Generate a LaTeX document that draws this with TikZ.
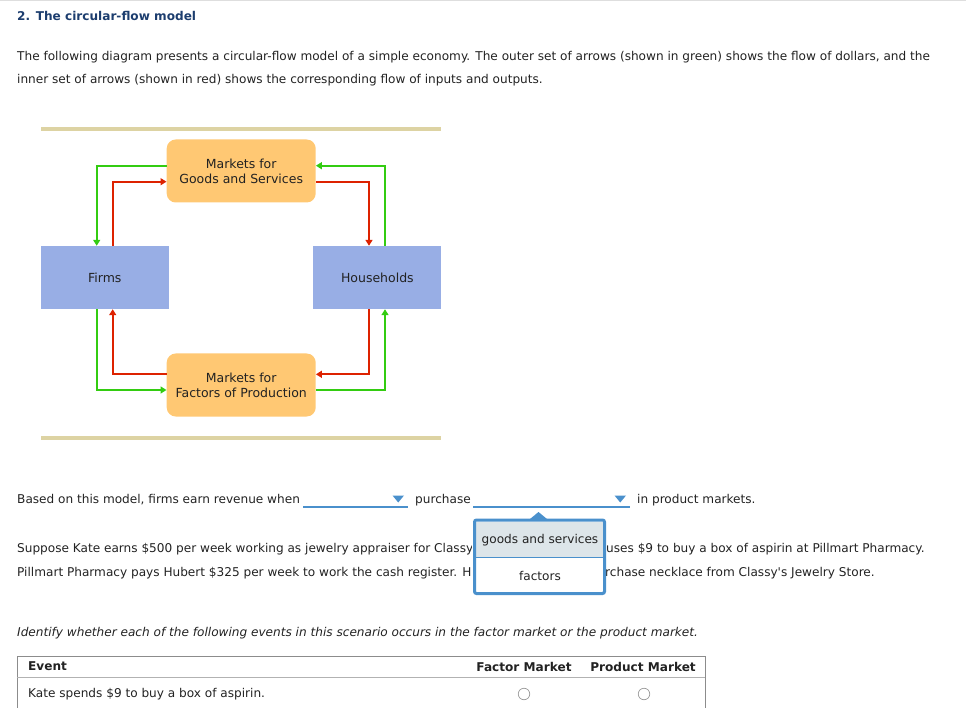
\documentclass[tikz,border=0pt]{standalone}
\usepackage{fontspec}
\setmainfont{DejaVu Sans}[Ligatures=TeXOff]
\usetikzlibrary{arrows.meta}
\definecolor{titleblue}{HTML}{1C3D6E}
\definecolor{flowgreen}{HTML}{33CC11}
\definecolor{flowred}{HTML}{DD2200}
\definecolor{mktorange}{HTML}{FFC873}
\definecolor{agentblue}{HTML}{98AEE5}
\definecolor{tanline}{HTML}{DDD3A3}
\definecolor{ddblue}{HTML}{4A90CC}
\definecolor{itemgray}{HTML}{DDE5E9}
\definecolor{txt}{HTML}{222222}
\tikzset{
  body/.style={font=\fontsize{12.1}{14}\selectfont, text=txt, inner sep=0pt, anchor=west},
  mkt/.style={fill=mktorange, rounded corners=9pt, minimum width=149pt, minimum height=63pt, align=center, font=\fontsize{12.5}{15}\selectfont, text=txt, inner sep=0pt},
  agent/.style={fill=agentblue, minimum width=128pt, minimum height=63pt, font=\fontsize{12.5}{15}\selectfont, text=txt, inner sep=0pt},
  gflow/.style={draw=flowgreen, line width=2pt, -{Triangle[length=6pt,width=7pt]}},
  rflow/.style={draw=flowred, line width=2pt, -{Triangle[length=6pt,width=7pt]}},
  ddline/.style={draw=ddblue, line width=1.5pt},
  ddtri/.style={fill=ddblue},
  hdr/.style={font=\fontsize{12.1}{14}\selectfont\bfseries, text=txt, inner sep=0pt},
}
\begin{document}
\begin{tikzpicture}[x=1pt,y=-1pt]
\useasboundingbox (0,0) rectangle (966,708);
\draw[color=black!13, line width=1.5pt] (0,0.75) -- (966,0.75);
\node[font=\fontsize{12.1}{14}\selectfont\bfseries, text=titleblue, inner sep=0pt, anchor=west] (title) at (17,16) {2. The circular-flow model};
\node[body] (p1) at (17,57) {The following diagram presents a circular-flow model of a simple economy. The outer set of arrows (shown in green) shows the flow of dollars, and the};
\node[body] (p2) at (17,80) {inner set of arrows (shown in red) shows the corresponding flow of inputs and outputs.};
% diagram
\draw[tanline, line width=4pt] (41,129.5) -- (441,129.5);
\draw[tanline, line width=4pt] (41,437.5) -- (441,437.5);
\node[mkt] (goods) at (241.2,171) {Markets for\\Goods and Services};
\node[mkt] (factors) at (241.2,385) {Markets for\\Factors of Production};
\node[agent] (firms) at (104.8,277.5) {Firms};
\node[agent] (house) at (377.4,277.5) {Households};
% top left
\draw[gflow] (goods.west |- 0,165.7) -| (firms.north -| 96.7,0);
\draw[rflow] (firms.north -| 112.7,0) |- (goods.west |- 0,181.7);
% top right
\draw[gflow] (house.north -| 385,0) |- (goods.east |- 0,165.7);
\draw[rflow] (goods.east |- 0,181.7) -| (house.north -| 369,0);
% bottom right
\draw[rflow] (house.south -| 369,0) |- (factors.east |- 0,374.3);
\draw[gflow] (factors.east |- 0,390) -| (house.south -| 385,0);
% bottom left
\draw[gflow] (firms.south -| 96.7,0) |- (factors.west |- 0,390);
\draw[rflow] (factors.west |- 0,374.3) -| (firms.south -| 112.7,0);
% question sentence
\node[body] (q1) at (17,500) {Based on this model, firms earn revenue when};
\coordinate (d1a) at (303,507);
\coordinate (d1b) at (408,507);
\draw[ddline] (d1a) -- (d1b);
\fill[ddtri] (392.5,495.5) -- (404,495.5) -- (398.25,502.5) -- cycle;
\node[body] (q2) at (415,500) {purchase};
\coordinate (d2a) at (473,507);
\coordinate (d2b) at (630,507);
\draw[ddline] (d2a) -- (d2b);
\fill[ddtri] (614.5,495.5) -- (626,495.5) -- (620.25,502.5) -- cycle;
\node[body] (q3) at (637,500) {in product markets.};
% scenario
\node[body] (s1) at (17,549) {Suppose Kate earns \$500 per week working as jewelry appraiser for Classy};
\node[body] (s1b) at (606,549) {uses \$9 to buy a box of aspirin at Pillmart Pharmacy.};
\node[body] (s2) at (17,573) {Pillmart Pharmacy pays Hubert \$325 per week to work the cash register. H};
\node[body] (s2b) at (605,573) {rchase necklace from Classy's Jewelry Store.};
% popup
\fill[white] (472,516) rectangle (606,596);
\fill[itemgray] (475,521.5) rectangle (604,557);
\draw[ddblue, line width=1pt] (475,557) -- (604,557);
\draw[ddblue, line width=3pt, rounded corners=2pt] (474.5,520) rectangle (604.5,593.5);
\fill[ddblue] (530,519) -- (538.5,512) -- (547,519) -- cycle;
\node[font=\fontsize{12.1}{14}\selectfont, text=txt, inner sep=0pt] (opt1) at (540,540) {goods and services};
\node[font=\fontsize{12.1}{14}\selectfont, text=txt, inner sep=0pt] (opt2) at (540,575.5) {factors};
% instruction
\node[body, font=\fontsize{12.1}{14}\selectfont\itshape] (inst) at (17,633) {Identify whether each of the following events in this scenario occurs in the factor market or the product market.};
% table
\draw[black!45, line width=1pt] (17,710) -- (17,656.5) -- (705,656.5) -- (705,710);
\draw[black!30, line width=1pt] (17,677) -- (705,677);
\node[hdr, anchor=west] (ev) at (28,666.5) {Event};
\node[hdr] (fm) at (524,666.5) {Factor Market};
\node[hdr] (pm) at (643,666.5) {Product Market};
\node[body] (r1) at (28,694) {Kate spends \$9 to buy a box of aspirin.};
\node[draw=black!40, circle, minimum size=11.5pt, inner sep=0pt, line width=0.7pt] (rb1) at (524,694) {};
\node[draw=black!40, circle, minimum size=11.5pt, inner sep=0pt, line width=0.7pt] (rb2) at (644,694) {};
\end{tikzpicture}
\end{document}
